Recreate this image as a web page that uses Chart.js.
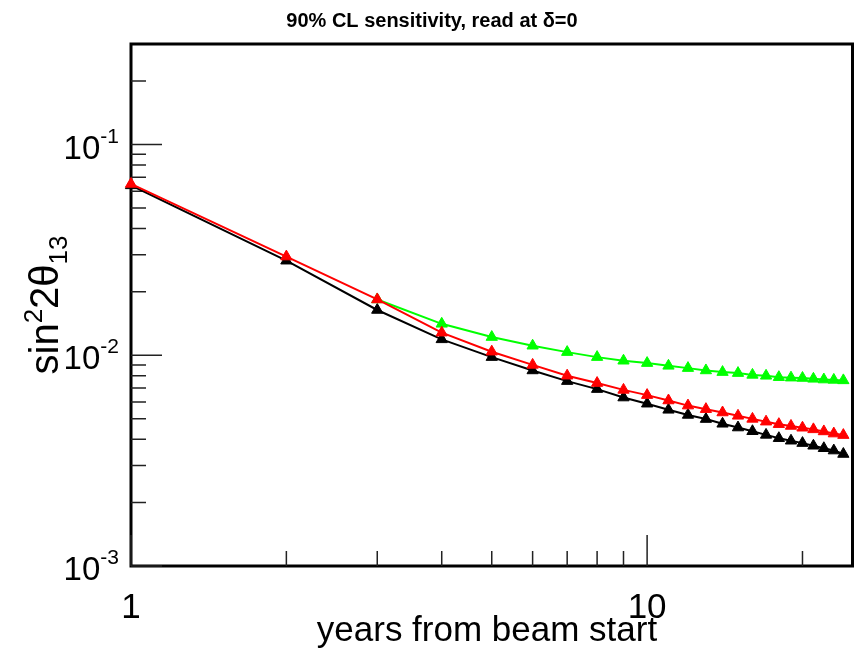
<!DOCTYPE html>
<html>
<head>
<meta charset="utf-8">
<script src="https://cdn.jsdelivr.net/npm/chart.js@4.4.1/dist/chart.umd.min.js"></script>
<style>
  html, body { margin: 0; padding: 0; background: #fff; overflow: hidden; }
  #wrap { position: relative; width: 860px; height: 650px; }
</style>
</head>
<body>
<div id="wrap"><canvas id="sens"></canvas></div>
<script>
  'use strict';

  // years after beam start
  const years = [1, 2, 3, 4, 5, 6, 7, 8, 9, 10, 11, 12, 13, 14, 15, 16, 17, 18, 19, 20, 21, 22, 23, 24];

  // sin^2 2theta13 sensitivity
  const blackVals = [0.064, 0.0281, 0.0164, 0.0119, 0.0098, 0.00847, 0.00754, 0.00691, 0.00630, 0.00589,
    0.00551, 0.00521, 0.00498, 0.00473, 0.00454, 0.00436, 0.00419, 0.00404, 0.00393, 0.00383,
    0.00372, 0.00362, 0.00353, 0.0034];
  const redVals = [0.065, 0.0294, 0.0184, 0.0128, 0.0104, 0.0090, 0.0080, 0.00738, 0.00685, 0.00647,
    0.0061, 0.00577, 0.00555, 0.00535, 0.00516, 0.00499, 0.00484, 0.00471, 0.00462, 0.00453,
    0.00445, 0.00435, 0.00425, 0.00418];
  const greenVals = [null, null, 0.0184, 0.0141, 0.0122, 0.0111, 0.01035, 0.0098, 0.00942, 0.00918,
    0.00891, 0.00869, 0.00847, 0.00832, 0.00823, 0.00807, 0.00799, 0.00787, 0.00783, 0.0078,
    0.00773, 0.00767, 0.00764, 0.0076];

  const xMajor = [1, 10];
  const xMajorLabels = ['1', '10'];
  const xMinor = [2, 3, 4, 5, 6, 7, 8, 9, 20];
  const yMajor = [0.1, 0.01, 0.001];
  const yMajorExp = ['-1', '-2', '-3'];
  const yMinor = [0.2, 0.09, 0.08, 0.07, 0.06, 0.05, 0.04, 0.03, 0.02,
    0.009, 0.008, 0.007, 0.006, 0.005, 0.004, 0.003, 0.002];

  const FONT = '"Liberation Sans", Arial, sans-serif';

  function toPoints(vals) {
    const pts = [];
    years.forEach(function (x, i) {
      if (vals[i] !== null) {
        pts.push({ x: x, y: vals[i] });
      }
    });
    return pts;
  }

  function series(vals, color, order) {
    return {
      data: toPoints(vals),
      borderColor: color,
      backgroundColor: color,
      borderWidth: 2,
      pointStyle: 'triangle',
      pointRadius: 6.5,
      pointBorderWidth: 1,
      pointBorderColor: color,
      tension: 0,
      clip: false,
      order: order,
    };
  }

  const framePlugin = {
    id: 'frame',
    beforeDatasetsDraw: function (chart) {
      const ctx = chart.ctx;
      const a = chart.chartArea;
      const xs = chart.scales.x;
      const ys = chart.scales.y;
      ctx.save();
      ctx.strokeStyle = '#000';
      ctx.lineWidth = 3;
      ctx.strokeRect(a.left, a.top, a.right - a.left, a.bottom - a.top);

      ctx.lineWidth = 1.5;
      ctx.strokeStyle = '#222';
      ctx.beginPath();
      yMajor.forEach(function (v) {
        const y = ys.getPixelForValue(v);
        ctx.moveTo(a.left, y);
        ctx.lineTo(a.left + 31, y);
      });
      yMinor.forEach(function (v) {
        const y = ys.getPixelForValue(v);
        ctx.moveTo(a.left, y);
        ctx.lineTo(a.left + 15, y);
      });
      xMajor.forEach(function (v) {
        const x = xs.getPixelForValue(v);
        ctx.moveTo(x, a.bottom);
        ctx.lineTo(x, a.bottom - 31);
      });
      xMinor.forEach(function (v) {
        const x = xs.getPixelForValue(v);
        ctx.moveTo(x, a.bottom);
        ctx.lineTo(x, a.bottom - 15);
      });
      ctx.stroke();
      ctx.restore();
    },
    afterDraw: function (chart) {
      const ctx = chart.ctx;
      const xs = chart.scales.x;
      const ys = chart.scales.y;
      ctx.save();
      ctx.fillStyle = '#000';

      // title
      ctx.font = 'bold 20px ' + FONT;
      ctx.textAlign = 'center';
      ctx.textBaseline = 'alphabetic';
      ctx.fillText('90% CL sensitivity, read at \u03b4=0', 432, 27);

      // y tick labels 10^n
      yMajor.forEach(function (v, i) {
        const y = ys.getPixelForValue(v);
        ctx.font = '21px ' + FONT;
        const wExp = ctx.measureText(yMajorExp[i]).width;
        ctx.textAlign = 'left';
        ctx.fillText(yMajorExp[i], 119 - wExp, y - 2);
        ctx.font = '33px ' + FONT;
        const wBase = ctx.measureText('10').width;
        ctx.fillText('10', 119 - wExp - wBase, y + 14);
      });

      // x tick labels
      ctx.font = '35px ' + FONT;
      ctx.textAlign = 'center';
      xMajor.forEach(function (v, i) {
        ctx.fillText(xMajorLabels[i], xs.getPixelForValue(v), 618);
      });

      // x title
      ctx.fillText('years from beam start', 487, 641);

      // y title: sin^2 2theta_13
      ctx.translate(58, 305);
      ctx.rotate(-Math.PI / 2);
      const parts = [
        { t: 'sin', size: 40, dy: 0 },
        { t: '2', size: 26, dy: -16 },
        { t: '2\u03b8', size: 40, dy: 0 },
        { t: '13', size: 26, dy: 9 },
      ];
      let total = 0;
      parts.forEach(function (p) {
        ctx.font = p.size + 'px ' + FONT;
        p.w = ctx.measureText(p.t).width;
        total += p.w;
      });
      let cx = -total / 2;
      ctx.textAlign = 'left';
      parts.forEach(function (p) {
        ctx.font = p.size + 'px ' + FONT;
        ctx.fillText(p.t, cx, p.dy);
        cx += p.w;
      });
      ctx.restore();
    },
  };

  new Chart(document.getElementById('sens'), {
    type: 'line',
    data: {
      datasets: [
        series(blackVals, '#000000', 2),
        series(greenVals, '#00ff00', 1),
        series(redVals, '#ff0000', 0),
      ],
    },
    options: {
      responsive: true,
      maintainAspectRatio: false,
      animation: false,
      layout: { padding: { left: 131, top: 44, right: 0, bottom: 84 } },
      plugins: {
        legend: { display: false },
        tooltip: { enabled: false },
        title: { display: false },
      },
      scales: {
        x: {
          type: 'logarithmic',
          min: 1,
          max: 25,
          ticks: { display: false },
          grid: { display: false, drawTicks: false },
          border: { display: false },
        },
        y: {
          type: 'logarithmic',
          min: 0.001,
          max: 0.3,
          ticks: { display: false },
          grid: { display: false, drawTicks: false },
          border: { display: false },
        },
      },
    },
    plugins: [framePlugin],
  });
</script>
</body>
</html>
